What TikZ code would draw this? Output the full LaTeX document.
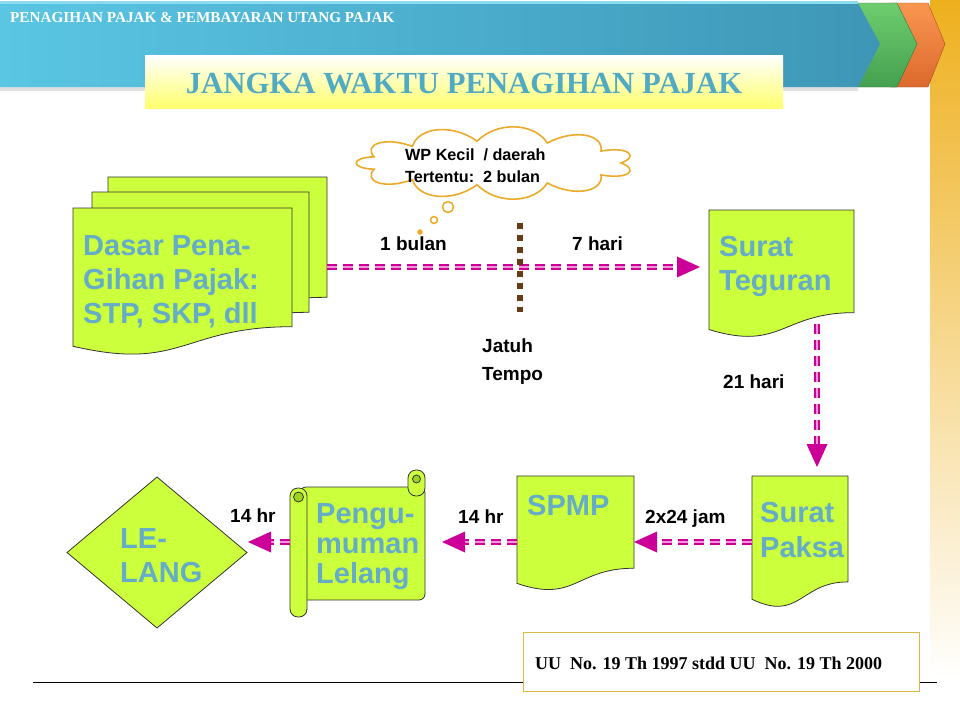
\documentclass[tikz,border=0pt]{standalone}
\usepackage{fontspec}
\setmainfont{Liberation Serif}
\newfontfamily\arialf{Liberation Sans}
\usetikzlibrary{calc,decorations.markings}
\definecolor{lime}{RGB}{204,255,60}
\definecolor{tealtxt}{RGB}{100,172,200}
\definecolor{titletxt}{RGB}{80,170,196}
\definecolor{mag}{RGB}{204,0,153}
\definecolor{pinkin}{RGB}{244,150,220}
\definecolor{brownd}{RGB}{102,60,20}
\definecolor{cloudor}{RGB}{235,170,40}
\definecolor{boxgold}{RGB}{220,185,70}
\definecolor{curlg}{RGB}{160,210,30}
\definecolor{barorange}{RGB}{238,176,30}
\definecolor{chorTop}{RGB}{250,150,80}
\definecolor{chorBot}{RGB}{220,105,45}
\definecolor{chorEdge}{RGB}{170,80,30}
\definecolor{chgrTop}{RGB}{110,205,110}
\definecolor{chgrBot}{RGB}{70,160,80}
\definecolor{chgrEdge}{RGB}{50,120,60}
\definecolor{blueL}{RGB}{90,198,228}
\definecolor{blueR}{RGB}{62,150,182}
\definecolor{blueTop}{RGB}{140,220,240}
\definecolor{titleY}{RGB}{255,255,110}
\newcommand\twol[2]{\vtop{\hbox{#1}\hbox{#2}}}
\newcommand\threel[3]{\vtop{\hbox{#1}\hbox{#2}\hbox{#3}}}
\newcommand\docpath[1]{%
  \path[shapefill] (#1.north west) -- (#1.north east)
    -- ($(#1.north east)!0.802!(#1.south east)$)
    .. controls ($(#1.north)!0.802!(#1.south)$) and ($(#1.north)!1.107!(#1.south)$)
    .. ($(#1.north west)!0.934!(#1.south west)$) -- cycle;}
\tikzset{
  docnode/.style={draw=none, inner sep=0pt, outer sep=0pt},
  shapefill/.style={fill=lime, draw=black!80, line width=0.8pt},
  doctext/.style={anchor=base west, inner sep=0pt, text=tealtxt, font=\arialf\bfseries\fontsize{29}{34}\selectfont},
  lbl/.style={anchor=base west, inner sep=0pt, font=\arialf\bfseries\fontsize{19}{28}\selectfont},
  link/.style={draw=mag, line width=1.8pt, double=pinkin, double distance=1.6pt,
    dash pattern=on 10pt off 6pt, shorten >=20pt,
    postaction={decorate, decoration={markings, mark=at position 1 with
      {\fill[mag, draw=none] (0pt,0pt) -- (-23pt,10.5pt) -- (-23pt,-10.5pt) -- cycle;}}}},
}
\begin{document}
\begin{tikzpicture}[x=1pt, y=-1pt]
\useasboundingbox (0,0) rectangle (960,720);
\fill[white] (0,0) rectangle (960,720);
% right orange bar
\shade[top color=barorange, bottom color=white] (930,0) rectangle (960,680);
% banner chevrons
\shade[top color=chorTop, bottom color=chorBot, draw=chorEdge, line width=0.4pt]
  (890,3) -- (928,3) -- (945,44) -- (928,87) -- (890,87) -- cycle;
\shade[top color=chgrTop, bottom color=chgrBot, draw=chgrEdge, line width=0.4pt]
  (850,3) -- (897,3) -- (917,44) -- (897,87) -- (850,87) -- cycle;
\fill[black!12] (0,87) rectangle (858,91);
\shade[left color=blueL, right color=blueR]
  (0,3) -- (858,3) -- (880,44) -- (858,87) -- (0,87) -- cycle;
\fill[blueTop] (0,1) rectangle (858,4);
\node[anchor=base west, inner sep=0pt, text=white, font=\bfseries\fontsize{15.2}{18}\selectfont] (hdr) at (10,22) {PENAGIHAN PAJAK \& PEMBAYARAN UTANG PAJAK};
% title box
\shade[top color=white, bottom color=titleY] (145,55) rectangle (783,108);
\node[anchor=base, inner sep=0pt, text=titletxt, font=\bfseries\fontsize{30.7}{36}\selectfont] (title) at (464,93) {JANGKA WAKTU PENAGIHAN PAJAK};

% document stack
\node[docnode, minimum width=219pt, minimum height=150pt] (stackB) at (217.5,252) {};
\node[docnode, minimum width=217pt, minimum height=150pt] (stackM) at (200.5,267) {};
\node[docnode, minimum width=219pt, minimum height=148pt] (dasar) at (182.5,282) {};
\docpath{stackB}
\docpath{stackM}
\docpath{dasar}
\node[doctext] (dasarT) at (83,255) {\threel{Dasar Pena-}{Gihan Pajak:}{STP, SKP, dll}};

% other documents
\node[docnode, minimum width=145pt, minimum height=128pt] (teg) at (781.5,274) {};
\docpath{teg}
\node[doctext] (tegT) at (719,256) {\twol{Surat}{Teguran}};
\node[docnode, minimum width=96pt, minimum height=132pt] (paksa) at (800,542) {};
\docpath{paksa}
\node[doctext, font=\arialf\bfseries\fontsize{29}{35}\selectfont] (paksaT) at (760,522) {\twol{Surat}{Paksa}};
\node[docnode, minimum width=117pt, minimum height=115pt] (spmp) at (575.5,533.5) {};
\docpath{spmp}
\node[doctext] (spmpT) at (527,515) {SPMP};

% scroll
\node[docnode, minimum width=135pt, minimum height=147pt] (peng) at (357.5,543.5) {};
\path[shapefill, rounded corners=6pt] (300,487) -- (425,487) -- (425,600) -- (300,600) -- cycle;
\path[shapefill, rounded corners=8pt] (408,470) rectangle (425,496);
\path[fill=curlg, draw=black!80, line width=0.8pt] (416.5,479) circle (4pt);
\path[shapefill, rounded corners=8pt] (290,488) rectangle (307,617);
\path[fill=curlg, draw=black!80, line width=0.8pt] (298.5,497) circle (5pt);
\node[doctext, font=\arialf\bfseries\fontsize{29}{30}\selectfont] (pengT) at (316,523) {\threel{Pengu-}{muman}{Lelang}};

% diamond
\node[docnode, minimum width=180pt, minimum height=151pt] (lel) at (157,552.5) {};
\path[shapefill] (lel.north) -- (lel.east) -- (lel.south) -- (lel.west) -- cycle;
\node[doctext] (lelT) at (120,548) {\twol{LE-}{LANG}};

% cloud
\node[docnode, minimum width=284pt, minimum height=72pt] (cloud) at (495,163) {};
\draw[cloudor, line width=1.6pt, fill=white]
  ($(cloud.center)+(126,0)$)
  \foreach \i in {0,...,10} {
    .. controls ($(cloud.center)+({146*cos(\i*360/11+9)},{42*sin(\i*360/11+9)})$)
    and ($(cloud.center)+({146*cos((\i+1)*360/11-9)},{42*sin((\i+1)*360/11-9)})$)
    .. ($(cloud.center)+({126*cos((\i+1)*360/11)},{22*sin((\i+1)*360/11)})$)
  } -- cycle;
\node[anchor=base west, inner sep=0pt, font=\arialf\bfseries\fontsize{16.2}{22}\selectfont] (cloudT) at (405,160) {\twol{WP Kecil\ \ / daerah}{Tertentu:\ \ 2 bulan}};
\draw[cloudor, line width=1.5pt, fill=white] (448,207) circle (5.5pt);
\draw[cloudor, line width=1.5pt, fill=white] (434,220) circle (3.5pt);
\fill[cloudor] (420,232) circle (2.8pt);

% connectors
\draw[link] (stackB.east |- 0,267) -- ($(teg.west |- 0,267)+(-9,0)$);
\draw[link] ([xshift=35.5pt,yshift=14pt]teg.south) -- ([xshift=17pt,yshift=9pt]paksa.north);
\draw[link] (paksa.west) -- (spmp.east |- paksa.west);
\draw[link] (spmp.west |- paksa.west) -- ($(peng.east |- paksa.west)+(17,0)$);
\draw[link] (peng.west |- paksa.west) -- ($(lel.east |- paksa.west)+(1,0)$);

% due date marker
\coordinate (jtTop) at (520,223);
\coordinate (jtBot) at (520,312);
\draw[brownd, line width=6pt, dash pattern=on 6pt off 6pt] (jtTop) -- (jtBot);

% labels
\node[lbl] (l1) at (380,250) {1 bulan};
\node[lbl] (l2) at (572,250) {7 hari};
\node[lbl] (l3) at (482,352) {\twol{Jatuh}{Tempo}};
\node[lbl] (l4) at (723,388) {21 hari};
\node[lbl] (l5) at (645,523) {2x24 jam};
\node[lbl] (l6) at (458,523) {14 hr};
\node[lbl] (l7) at (230,522) {14 hr};

% bottom rule and reference box
\coordinate (hlL) at (33,682);
\coordinate (hlR) at (937,682);
\draw[black, line width=1pt] (hlL) -- (hlR);
\node[draw=boxgold, fill=white, line width=1pt, minimum width=396pt, minimum height=59pt, inner sep=0pt] (uu) at (721,661.5) {};
\node[anchor=base west, inner sep=0pt, font=\bfseries\fontsize{18}{21}\selectfont] (uuT) at (535,669) {UU\ \ No. 19 Th 1997 stdd UU\ \ No. 19 Th 2000};
\end{tikzpicture}
\end{document}
